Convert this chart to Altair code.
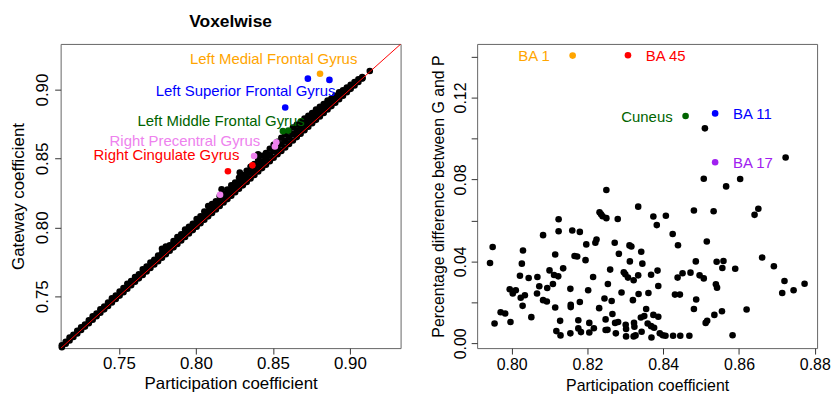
import altair as alt
import pandas as pd

FONT = "Liberation Sans"

# ---------------------------------------------------------------- voxelwise
# Dense voxel cloud: participation value and how far the top of the cloud
# sits above the identity line (gateway - participation) at that value.
band_p = [
    0.713, 0.7155, 0.718, 0.7205, 0.723, 0.7255, 0.728, 0.7305, 0.733, 0.7355,
    0.738, 0.7405, 0.743, 0.7455, 0.748, 0.7505, 0.753, 0.7555, 0.758, 0.7605,
    0.763, 0.7655, 0.768, 0.7705, 0.773, 0.7755, 0.778, 0.7805, 0.783, 0.7855,
    0.788, 0.7905, 0.793, 0.7955, 0.798, 0.8005, 0.803, 0.8055, 0.808, 0.8105,
    0.813, 0.8155, 0.818, 0.8205, 0.823, 0.8255, 0.828, 0.8305, 0.833, 0.8355,
    0.838, 0.8405, 0.843, 0.8455, 0.848, 0.8505, 0.853, 0.8555, 0.858, 0.8605,
    0.863, 0.8655, 0.868, 0.8705, 0.873, 0.8755, 0.878, 0.8805, 0.883, 0.8855,
    0.888, 0.8905, 0.893, 0.8955, 0.898, 0.9005, 0.903, 0.9055, 0.908,
]
band_top = [
    0.0015, 0.0015, 0.002, 0.0015, 0.002, 0.002, 0.0015, 0.002, 0.0025, 0.002,
    0.0025, 0.002, 0.0025, 0.003, 0.0025, 0.003, 0.003, 0.0035, 0.003, 0.0035,
    0.003, 0.004, 0.0035, 0.004, 0.0035, 0.004, 0.0065, 0.0055, 0.004, 0.0045,
    0.005, 0.0045, 0.0055, 0.005, 0.0045, 0.0055, 0.005, 0.006, 0.0075, 0.0065,
    0.006, 0.007, 0.0065, 0.007, 0.0075, 0.007, 0.008, 0.0075, 0.008, 0.0085,
    0.008, 0.0085, 0.009, 0.0085, 0.009, 0.0095, 0.009, 0.0095, 0.0095, 0.009,
    0.0095, 0.009, 0.0085, 0.0085, 0.008, 0.0075, 0.0075, 0.007, 0.0065, 0.0065,
    0.0055, 0.005, 0.005, 0.004, 0.0035, 0.003, 0.0025, 0.002, 0.001,
]
# isolated voxels just above the cloud
extra_p = [0.8167, 0.8285, 0.8404, 0.9081, 0.9129]
extra_g = [0.8276, 0.8398, 0.8530, 0.9082, 0.9134]

# highlighted regions
region_names = [
    "Left Medial Frontal Gyrus",
    "Left Superior Frontal Gyrus",
    "Left Middle Frontal Gyrus",
    "Right Precentral Gyrus",
    "Right Cingulate Gyrus",
]
region_colors = ["#FFA500", "#0000FF", "#006400", "#EE82EE", "#FF0000"]
region_idx = [0, 1, 1, 1, 2, 2, 3, 3, 3, 3, 4, 4]
region_p = [0.8806, 0.8727, 0.8867, 0.8580, 0.8565, 0.8600,
            0.8522, 0.8513, 0.8378, 0.8157, 0.8208, 0.8367]
region_g = [0.9115, 0.9079, 0.9070, 0.8870, 0.8698, 0.8702,
            0.8618, 0.8587, 0.8518, 0.8237, 0.8407, 0.8450]

# where each region name is written (centre of text, baseline)
name_at_x = [0.8505, 0.8323, 0.8164, 0.7929, 0.7809]
name_at_y = [0.9183, 0.8950, 0.8738, 0.8587, 0.8486]

# ------------------------------------------------------------ area-wise panel
area_p = [
    0.7943, 0.7950, 0.7955, 0.7971, 0.7983, 0.7995, 0.7997, 0.8003, 0.8011, 0.8022,
    0.8024, 0.8027, 0.8030, 0.8029, 0.8035, 0.8045, 0.8052, 0.8067, 0.8068, 0.8073,
    0.8083, 0.8083, 0.8093, 0.8094, 0.8100, 0.8109, 0.8112, 0.8115, 0.8115, 0.8118,
    0.8123, 0.8124, 0.8124, 0.8128, 0.8129, 0.8136, 0.8155, 0.8155, 0.8156, 0.8156,
    0.8160, 0.8166, 0.8173, 0.8176, 0.8176, 0.8180, 0.8180, 0.8183, 0.8195, 0.8197,
    0.8202, 0.8205, 0.8205, 0.8215, 0.8217, 0.8221, 0.8224, 0.8231, 0.8232, 0.8236,
    0.8240, 0.8245, 0.8248, 0.8248, 0.8250, 0.8250, 0.8253, 0.8254, 0.8260, 0.8264,
    0.8266, 0.8272, 0.8273, 0.8275, 0.8280, 0.8281, 0.8283, 0.8290, 0.8296, 0.8300,
    0.8301, 0.8302, 0.8302, 0.8307, 0.8311, 0.8312, 0.8316, 0.8320, 0.8322, 0.8322,
    0.8323, 0.8324, 0.8327, 0.8334, 0.8334, 0.8335, 0.8341, 0.8342, 0.8343, 0.8345,
    0.8350, 0.8355, 0.8359, 0.8361, 0.8368, 0.8368, 0.8369, 0.8374, 0.8374, 0.8376,
    0.8383, 0.8385, 0.8387, 0.8387, 0.8391, 0.8399, 0.8407, 0.8406, 0.8425, 0.8426,
    0.8431, 0.8438, 0.8439, 0.8444, 0.8445, 0.8451, 0.8469, 0.8472, 0.8481, 0.8481,
    0.8486, 0.8487, 0.8496, 0.8507, 0.8512, 0.8515, 0.8516, 0.8533, 0.8535, 0.8539,
    0.8541, 0.8542, 0.8555, 0.8556, 0.8559, 0.8583, 0.8590, 0.8620, 0.8641, 0.8651,
    0.8661, 0.8692, 0.8714, 0.8720, 0.8744, 0.8773,
    0.8510, 0.8723, 0.8507, 0.8566, 0.8603,
]
area_diff = [
    0.0392, 0.0470, 0.0097, 0.0152, 0.0146, 0.0264, 0.0104, 0.0243, 0.0259, 0.0330,
    0.0223, 0.0389, 0.0453, 0.0183, 0.0235, 0.0319, 0.0128, 0.0243, 0.0324, 0.0279,
    0.0528, 0.0211, 0.0204, 0.0270, 0.0356, 0.0290, 0.0334, 0.0434, 0.0175, 0.0060,
    0.0327, 0.0606, 0.0547, 0.0110, 0.0039, 0.0366, 0.0266, 0.0049, 0.0188, 0.0177,
    0.0551, 0.0426, 0.0424, 0.0113, 0.0073, 0.0544, 0.0202, 0.0055, 0.0406, 0.0483,
    0.0259, 0.0100, 0.0053, 0.0324, 0.0074, 0.0491, 0.0507, 0.0172, 0.0640, 0.0630,
    0.0620, 0.0219, 0.0117, 0.0065, 0.0611, 0.0748, 0.0066, 0.0290, 0.0360, 0.0207,
    0.0143, 0.0491, 0.0100, 0.0049, 0.0607, 0.0104, 0.0437, 0.0248, 0.0347, 0.0337,
    0.0091, 0.0070, 0.0034, 0.0321, 0.0478, 0.0400, 0.0473, 0.0211, 0.0308, 0.0034,
    0.0100, 0.0081, 0.0039, 0.0667, 0.0332, 0.0241, 0.0126, 0.0447, 0.0057, 0.0389,
    0.0133, 0.0168, 0.0097, 0.0246, 0.0335, 0.0084, 0.0029, 0.0619, 0.0139, 0.0076,
    0.0577, 0.0355, 0.0130, 0.0280, 0.0049, 0.0040, 0.0623, 0.0037, 0.0534, 0.0037,
    0.0238, 0.0321, 0.0479, 0.0238, 0.0037, 0.0342, 0.0037, 0.0345, 0.0648, 0.0168,
    0.0400, 0.0214, 0.0332, 0.0317, 0.0100, 0.0497, 0.0110, 0.0645, 0.0139, 0.0288,
    0.0398, 0.0272, 0.0157, 0.0368, 0.0402, 0.0040, 0.0364, 0.0165, 0.0627, 0.0657,
    0.0419, 0.0376, 0.0246, 0.0304, 0.0259, 0.0291,
    0.1049, 0.0907, 0.0803, 0.0766, 0.0802,
]

ba_names = ["BA 1", "BA 45", "Cuneus", "BA 11", "BA 17"]
ba_colors = ["#FFA500", "#FF0000", "#006400", "#0000FF", "#A020F0"]
ba_p = [0.8161, 0.8307, 0.8459, 0.8537, 0.8537]
ba_diff = [0.1404, 0.1406, 0.1109, 0.1122, 0.0884]

# label placement next to each highlighted area
ba_align = ["right", "left", "right", "left", "left"]
ba_dx = [-23, 18, -13, 18, 18]

# ------------------------------------------------------------------ tables
band_rows = []
for p, top in zip(band_p, band_top):
    band_rows.append((p, p))
    if top > 0.004:
        band_rows.append((p, p + top / 2))
    band_rows.append((p, p + top))
band_rows += list(zip(extra_p, extra_g))
band_df = pd.DataFrame(band_rows, columns=["x", "y"])

hi_df = pd.DataFrame({
    "x": region_p,
    "y": region_g,
    "col": [region_colors[i] for i in region_idx],
})
names_df = pd.DataFrame({
    "x": name_at_x,
    "y": name_at_y,
    "name": region_names,
    "col": region_colors,
})
identity_df = pd.DataFrame({"x": [0.70, 0.95], "y": [0.70, 0.95]})

area_df = pd.DataFrame({"x": area_p, "y": area_diff})
ba_df = pd.DataFrame({"x": ba_p, "y": ba_diff, "col": ba_colors})

DOT = 44

# ------------------------------------------------------------------ left panel
lx = alt.X(
    "x:Q",
    scale=alt.Scale(domain=[0.7122, 0.9329], nice=False, zero=False),
    axis=alt.Axis(values=[0.75, 0.80, 0.85, 0.90], format=".2f",
                  title="Participation coefficient", labelFontSize=17,
                  titleFontSize=17, labelPadding=2, titlePadding=4),
)
ly = alt.Y(
    "y:Q",
    scale=alt.Scale(domain=[0.7124, 0.9331], nice=False, zero=False),
    axis=alt.Axis(values=[0.75, 0.80, 0.85, 0.90], format=".2f",
                  title="Gateway coefficient", labelAngle=270,
                  labelAlign="center", labelBaseline="bottom",
                  labelFontSize=17, titleFontSize=17,
                  labelPadding=3, titlePadding=6),
)

band = alt.Chart(band_df).mark_circle(size=DOT, color="black", opacity=1).encode(x=lx, y=ly)
hi = alt.Chart(hi_df).mark_circle(size=DOT, opacity=1).encode(
    x=lx, y=ly, color=alt.Color("col:N", scale=None))
identity = alt.Chart(identity_df).mark_line(color="#FF0000", strokeWidth=1, clip=True).encode(x=lx, y=ly)
names = alt.Chart(names_df).mark_text(
    font=FONT, fontSize=15, align="center", baseline="alphabetic"
).encode(x=lx, y=ly, text="name:N", color=alt.Color("col:N", scale=None))

left = alt.layer(band, hi, identity, names).properties(
    width=342, height=306,
    title=alt.TitleParams("Voxelwise", font=FONT, fontSize=17.5, fontWeight="bold",
                          anchor="middle", baseline="alphabetic", offset=0,
                          color="black"),
)

# ----------------------------------------------------------------- right panel
rx = alt.X(
    "x:Q",
    scale=alt.Scale(domain=[0.7909, 0.8806], nice=False, zero=False),
    axis=alt.Axis(values=[0.80, 0.82, 0.84, 0.86, 0.88], format=".2f",
                  title="Participation coefficient", labelFontSize=16,
                  titleFontSize=16, labelPadding=3, titlePadding=5),
)
ry = alt.Y(
    "y:Q",
    scale=alt.Scale(domain=[-0.0023, 0.1461], nice=False, zero=False),
    axis=alt.Axis(values=[0.00, 0.02, 0.04, 0.06, 0.08, 0.10, 0.12, 0.14],
                  labelExpr="round(datum.value * 100) % 4 == 0 ? format(datum.value, '.2f') : ''",
                  title="Percentage difference between G and P", labelAngle=270,
                  labelAlign="center", labelBaseline="bottom",
                  labelFontSize=16, titleFontSize=16,
                  labelPadding=3, titlePadding=6),
)

area = alt.Chart(area_df).mark_circle(size=DOT, color="black", opacity=1).encode(x=rx, y=ry)
ba = alt.Chart(ba_df).mark_circle(size=DOT, opacity=1).encode(
    x=rx, y=ry, color=alt.Color("col:N", scale=None))

ba_labels = []
for name, p, d, col, align, dx in zip(ba_names, ba_p, ba_diff, ba_colors, ba_align, ba_dx):
    ba_labels.append(
        alt.Chart(pd.DataFrame({"x": [p], "y": [d]})).mark_text(
            text=name, font=FONT, fontSize=15, color=col, align=align,
            baseline="alphabetic", dx=dx, dy=5.5,
        ).encode(x=rx, y=ry)
    )

right = alt.layer(area, ba, *ba_labels).properties(width=342, height=306)

chart = (
    alt.hconcat(left, right, spacing=28)
    .properties(padding={"left": 9, "top": 11, "right": 0, "bottom": 0})
    .configure(font=FONT)
    .configure_view(stroke="#666666", strokeWidth=1)
    .configure_axis(grid=False, domain=False, tickColor="#333333", tickSize=6,
                    tickWidth=1, labelColor="black", titleColor="black",
                    labelFont=FONT, titleFont=FONT, titleFontWeight="normal")
)

chart.save("out.html", embed_options={"renderer": "svg", "actions": False})
